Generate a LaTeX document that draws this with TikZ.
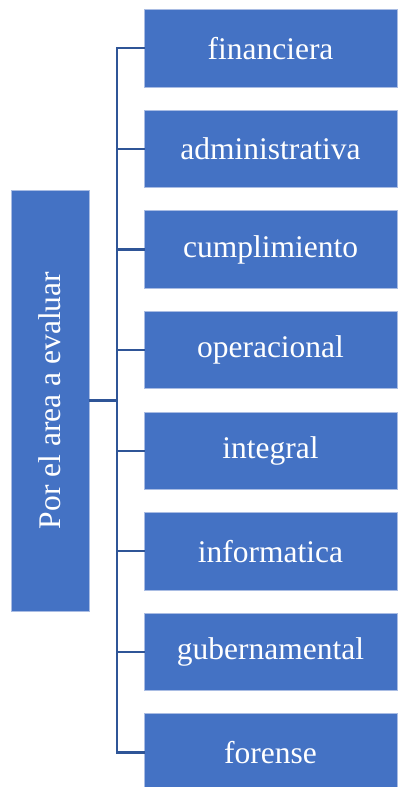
\documentclass[tikz,border=0pt]{standalone}
\usepackage{fontspec}
\setmainfont{Liberation Serif}
\definecolor{boxblue}{HTML}{4472C4}
\definecolor{edgeblue}{HTML}{A9BCE3}
\definecolor{lineblue}{HTML}{2F5597}
\begin{document}
\begin{tikzpicture}[x=1pt,y=1pt,
	caja/.style={fill=boxblue,draw=edgeblue,line width=0.8pt,text=white,inner sep=0pt,
		font=\fontsize{31.5}{36}\selectfont},
	rama/.style={draw=lineblue,line width=2.3pt}]
	\useasboundingbox (0,0) rectangle (398,-787);
	\node[caja,minimum width=78pt,minimum height=421pt] (raiz) at (50,-400.5) {};
	\node[rotate=90,text=white,font=\fontsize{31.5}{36}\selectfont] (raiztxt) at (raiz.center) {Por el area a evaluar};
	\coordinate (codo) at (117,-400.5);
	\draw[rama] (raiz.east) -- (codo);
	\foreach \t [count=\i] in {financiera,administrativa,cumplimiento,operacional,integral,informatica,gubernamental,forense}{
		\node[caja,minimum width=253pt,minimum height=77.5pt] (hoja\i) at (270.5,{-48.3-100.6*(\i-1)}) {\t};
		\draw[rama,line cap=rect] (117,0|-hoja\i.west) -- (hoja\i.west);
	}
	\draw[rama] (117,0|-hoja1.west) -- (117,0|-hoja8.west);
\end{tikzpicture}
\end{document}
